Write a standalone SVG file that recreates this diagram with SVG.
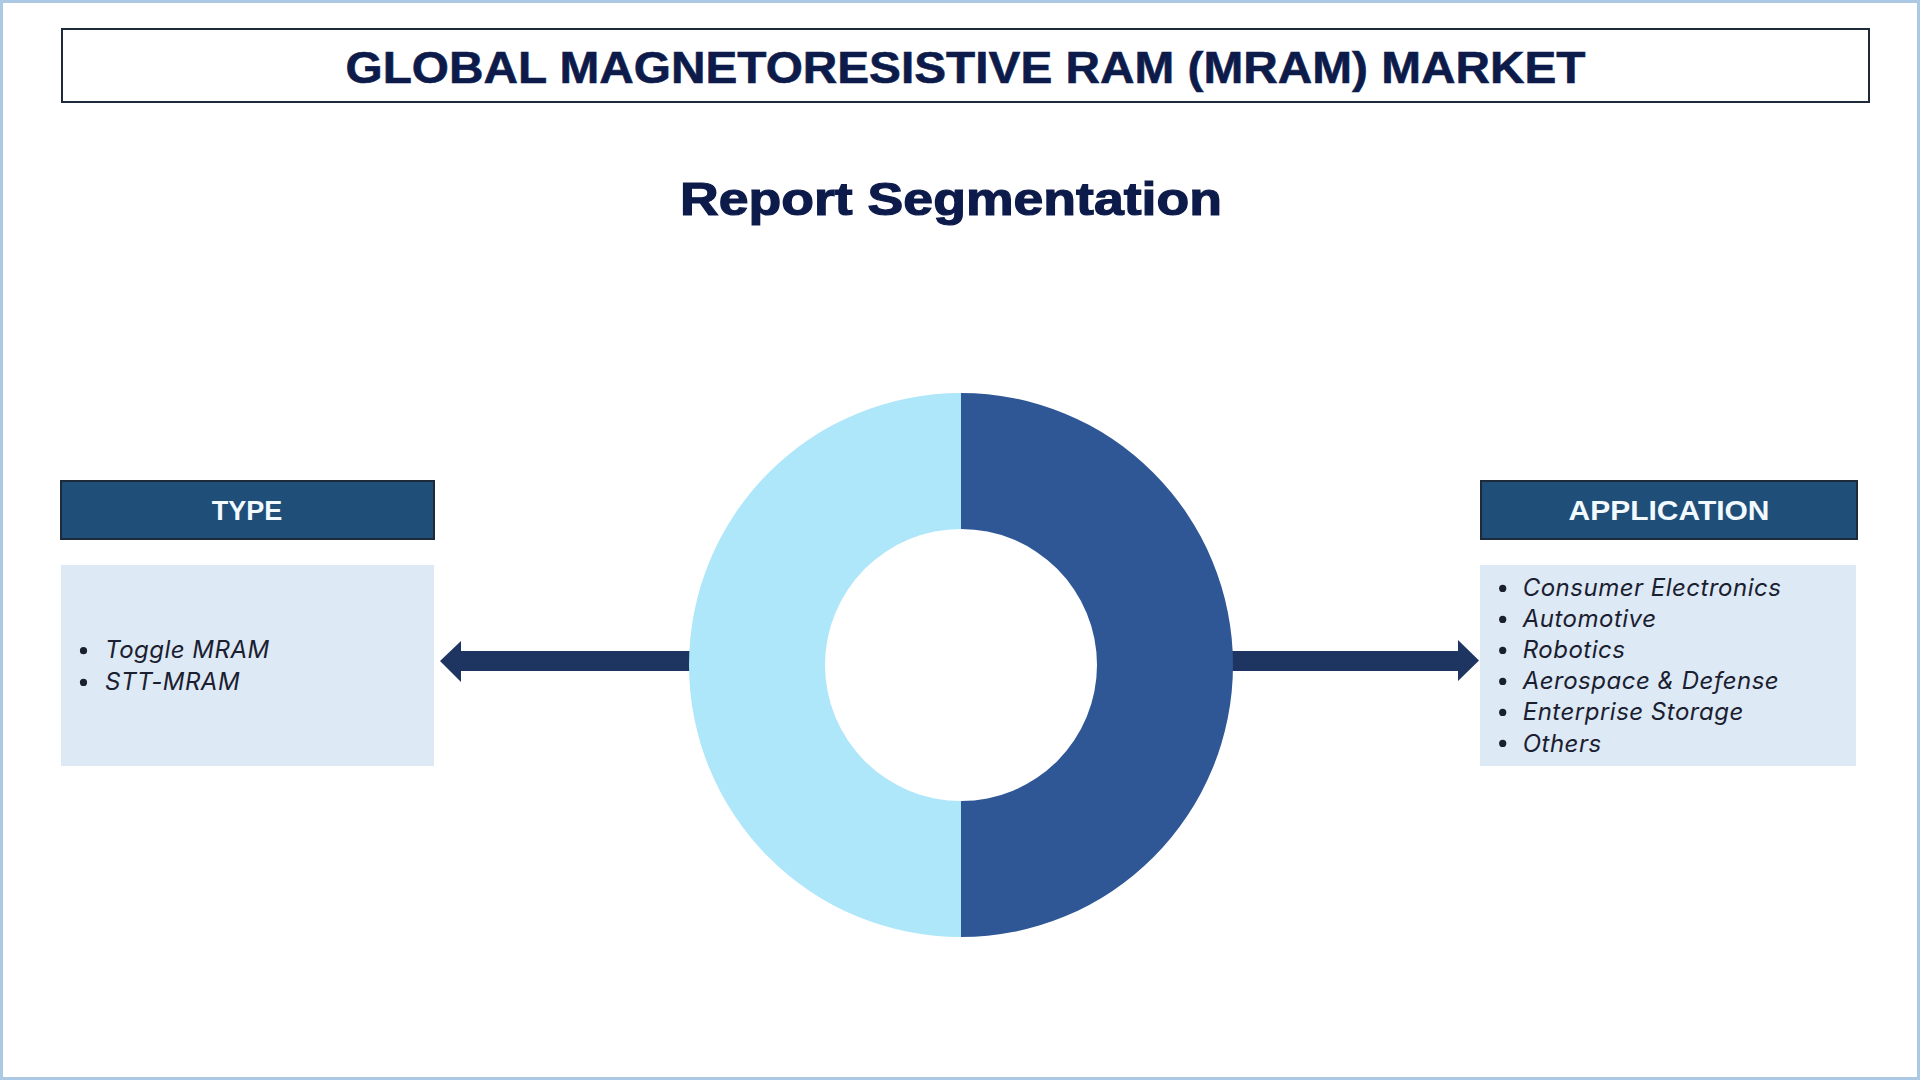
<svg xmlns="http://www.w3.org/2000/svg" width="1920" height="1080" viewBox="0 0 1920 1080">
<style>
.hdr{fill:#1f4e79;stroke:#1c2a3a;stroke-width:2}
.hdrtxt{font-family:"Liberation Sans",Arial,sans-serif;font-weight:bold;font-size:27px;fill:#f2f9ff;text-anchor:middle}
.body{fill:#dde9f5}
.item{font-family:Inter,"Liberation Sans",sans-serif;font-style:italic;font-size:24px;letter-spacing:0.5px;fill:#1a2030}
.bul{fill:#1a2030}
.arrow{fill:#1e3561}
</style>
<rect x="0" y="0" width="1920" height="1080" fill="#ffffff"/>
<rect x="1.5" y="1.5" width="1917" height="1077" fill="none" stroke="#acc8e2" stroke-width="3"/>
<g id="title">
<rect x="62" y="29" width="1807" height="73" fill="#ffffff" stroke="#1c2a3a" stroke-width="2"/>
<text x="965.5" y="83" font-family="'Liberation Sans',Arial,sans-serif" font-weight="bold" font-size="45" fill="#0d1b4b" stroke="#0d1b4b" stroke-width="0.6" text-anchor="middle" textLength="1240" lengthAdjust="spacingAndGlyphs">GLOBAL MAGNETORESISTIVE RAM (MRAM) MARKET</text>
</g>
<g id="subtitle">
<text x="951" y="215" font-family="'Liberation Sans',Arial,sans-serif" font-weight="bold" font-size="46" fill="#0d1b4b" stroke="#0d1b4b" stroke-width="1.2" text-anchor="middle" textLength="542" lengthAdjust="spacingAndGlyphs">Report Segmentation</text>
</g>
<g id="connectors">
<polygon class="arrow" points="690,651 461,651 461,641 440,661 461,682 461,671 690,671"/>
<polygon class="arrow" points="1232,651 1458,651 1458,640 1479,660.5 1458,681 1458,671 1232,671"/>
</g>
<g id="donut">
<path d="M961 393 A272 272 0 0 0 961 937 L961 801 A136 136 0 0 1 961 529 Z" fill="#aee6fa"/>
<path d="M961 393 A272 272 0 0 1 961 937 L961 801 A136 136 0 0 0 961 529 Z" fill="#2f5796"/>
</g>
<g id="type">
<rect class="hdr" x="61" y="481" width="373" height="58"/>
<text class="hdrtxt" x="247" y="520">TYPE</text>
<rect class="body" x="61" y="565" width="373" height="201"/>
<circle class="bul" cx="83.5" cy="650.7" r="3.6"/>
<text class="item" x="105" y="658.3">Toggle MRAM</text>
<circle class="bul" cx="83.5" cy="682.4" r="3.6"/>
<text class="item" x="105" y="690">STT-MRAM</text>
</g>
<g id="application">
<rect class="hdr" x="1481" y="481" width="376" height="58"/>
<text class="hdrtxt" x="1669" y="520" textLength="201" lengthAdjust="spacingAndGlyphs">APPLICATION</text>
<rect class="body" x="1480" y="565" width="376" height="201"/>
<circle class="bul" cx="1502.7" cy="588.4" r="3.6"/>
<text class="item" x="1522.7" y="596">Consumer Electronics</text>
<circle class="bul" cx="1502.7" cy="619.4" r="3.6"/>
<text class="item" x="1522.7" y="627">Automotive</text>
<circle class="bul" cx="1502.7" cy="650.4" r="3.6"/>
<text class="item" x="1522.7" y="658">Robotics</text>
<circle class="bul" cx="1502.7" cy="681.4" r="3.6"/>
<text class="item" x="1522.7" y="689">Aerospace &amp; Defense</text>
<circle class="bul" cx="1502.7" cy="712.4" r="3.6"/>
<text class="item" x="1522.7" y="720">Enterprise Storage</text>
<circle class="bul" cx="1502.7" cy="743.4" r="3.6"/>
<text class="item" x="1522.7" y="751.5">Others</text>
</g>
</svg>
